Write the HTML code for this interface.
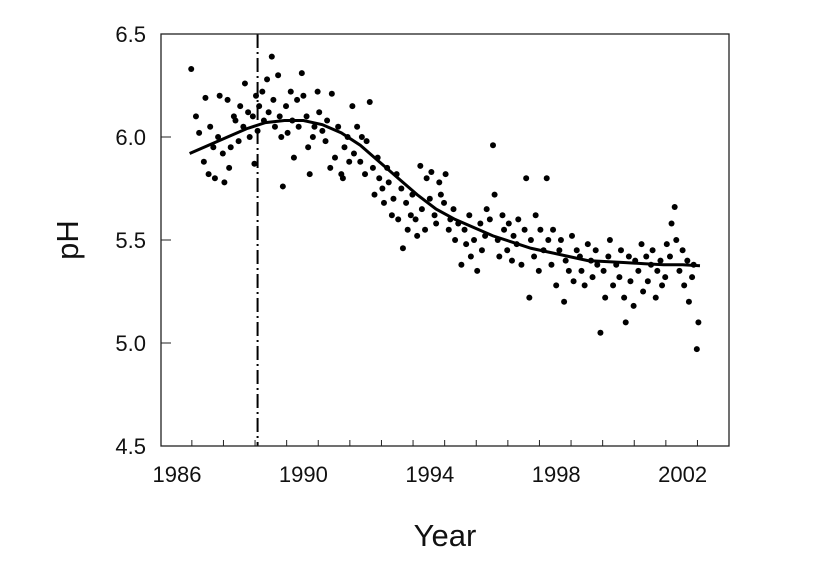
<!DOCTYPE html>
<html><head><meta charset="utf-8"><style>
html,body{margin:0;padding:0;background:#fff;}
svg{display:block;font-family:"Liberation Sans",Arial,sans-serif;}
</style></head><body>
<svg id="chart" width="832" height="564">
<rect x="0" y="0" width="832" height="564" fill="#fff"/>
<g id="dots"></g>
<g id="axes"></g>
<text x="445" y="546" font-size="31" text-anchor="middle" fill="#111">Year</text>
<text transform="translate(78,240) rotate(-90)" font-size="31" text-anchor="middle" fill="#111">pH</text>
</svg>
<script>
const years = [1986.45,1986.6,1986.7,1986.85,1986.9,1987.0,1987.05,1987.15,1987.2,1987.3,1987.35,1987.45,1987.5,1987.6,1987.65,1987.7,1987.8,1987.85,1987.95,1988.0,1988.1,1988.15,1988.25,1988.3,1988.4,1988.45,1988.5,1988.55,1988.6,1988.7,1988.75,1988.85,1988.9,1989.0,1989.05,1989.1,1989.2,1989.25,1989.3,1989.35,1989.45,1989.5,1989.6,1989.65,1989.7,1989.8,1989.85,1989.95,1990.0,1990.1,1990.15,1990.2,1990.3,1990.35,1990.45,1990.5,1990.6,1990.7,1990.75,1990.85,1990.9,1991.0,1991.1,1991.2,1991.25,1991.3,1991.4,1991.45,1991.55,1991.6,1991.7,1991.8,1991.85,1991.95,1992.0,1992.1,1992.2,1992.25,1992.35,1992.4,1992.5,1992.55,1992.65,1992.7,1992.8,1992.85,1992.95,1993.0,1993.1,1993.15,1993.25,1993.3,1993.4,1993.45,1993.55,1993.6,1993.7,1993.75,1993.85,1993.9,1994.0,1994.05,1994.15,1994.2,1994.3,1994.35,1994.45,1994.5,1994.6,1994.65,1994.75,1994.8,1994.9,1995.0,1995.1,1995.15,1995.25,1995.3,1995.4,1995.5,1995.6,1995.65,1995.75,1995.8,1995.9,1996.0,1996.05,1996.15,1996.2,1996.3,1996.35,1996.45,1996.5,1996.6,1996.65,1996.75,1996.8,1996.9,1997.0,1997.05,1997.15,1997.2,1997.3,1997.35,1997.45,1997.5,1997.6,1997.7,1997.75,1997.85,1997.9,1998.0,1998.1,1998.15,1998.25,1998.3,1998.4,1998.5,1998.55,1998.65,1998.75,1998.8,1998.9,1999.0,1999.1,1999.15,1999.25,1999.3,1999.4,1999.5,1999.55,1999.65,1999.7,1999.8,1999.9,2000.0,2000.05,2000.15,2000.2,2000.3,2000.35,2000.45,2000.5,2000.6,2000.7,2000.75,2000.85,2000.9,2001.0,2001.05,2001.15,2001.2,2001.3,2001.35,2001.45,2001.5,2001.6,2001.65,2001.75,2001.8,2001.9,2002.0,2002.05,2002.15,2002.2,2002.3,2002.35,2002.45,2002.5];
const phValues = [6.33,6.10,6.02,5.88,6.19,5.82,6.05,5.95,5.80,6.0,6.2,5.92,5.78,6.18,5.85,5.95,6.1,6.08,5.98,6.15,6.05,6.26,6.12,6.0,6.1,5.87,6.2,6.03,6.15,6.22,6.08,6.28,6.12,6.39,6.18,6.05,6.3,6.1,6.0,5.76,6.15,6.02,6.22,6.08,5.9,6.18,6.05,6.31,6.2,6.1,5.95,5.82,6.0,6.05,6.22,6.12,6.03,5.98,6.08,5.85,6.21,5.9,6.05,5.82,5.8,5.95,6.0,5.88,6.15,5.92,6.05,5.88,6.0,5.82,5.98,6.17,5.85,5.72,5.9,5.8,5.75,5.68,5.85,5.78,5.62,5.7,5.82,5.6,5.75,5.46,5.68,5.55,5.62,5.72,5.6,5.52,5.86,5.65,5.55,5.8,5.7,5.83,5.62,5.58,5.78,5.72,5.68,5.82,5.55,5.6,5.65,5.5,5.58,5.38,5.55,5.48,5.62,5.42,5.5,5.35,5.58,5.45,5.52,5.65,5.6,5.96,5.72,5.5,5.42,5.62,5.55,5.45,5.58,5.4,5.52,5.48,5.6,5.38,5.55,5.8,5.22,5.5,5.42,5.62,5.35,5.55,5.45,5.8,5.5,5.38,5.55,5.28,5.45,5.5,5.2,5.4,5.35,5.52,5.3,5.45,5.42,5.35,5.28,5.48,5.4,5.32,5.45,5.38,5.05,5.35,5.22,5.42,5.5,5.28,5.38,5.32,5.45,5.22,5.1,5.42,5.3,5.18,5.4,5.35,5.48,5.25,5.42,5.3,5.38,5.45,5.22,5.35,5.4,5.28,5.32,5.48,5.42,5.58,5.66,5.5,5.35,5.45,5.28,5.4,5.2,5.32,5.38,4.97,5.1,5.42,5.3,5.52,5.54,5.34];
const fitYears = [1986.4,1987,1987.6,1988.2,1988.8,1989.4,1990,1990.6,1991.2,1991.8,1992.4,1993,1993.6,1994.2,1994.8,1995.4,1996,1996.6,1997.2,1997.8,1998.4,1999,1999.6,2000.2,2000.8,2001.4,2002,2002.55];
const fitValues = [5.92,5.96,6.0,6.04,6.07,6.08,6.08,6.06,6.02,5.96,5.88,5.80,5.72,5.65,5.60,5.56,5.52,5.49,5.46,5.44,5.42,5.40,5.395,5.39,5.385,5.38,5.38,5.375];
const xTickLabels = [1986,1990,1994,1998,2002];
const yTickLabels = [4.5,5.0,5.5,6.0,6.5];
const refYear = 1988.55;

const x = yr => 177 + (yr - 1986) * 31.6;
const y = v => 34 + (6.5 - v) * 206;
const NS = 'http://www.w3.org/2000/svg';
function mk(tag, attrs, parent){const e=document.createElementNS(NS,tag);for(const k in attrs)e.setAttribute(k,attrs[k]);parent.appendChild(e);return e;}
const dots = document.getElementById('dots');
const axes = document.getElementById('axes');
years.forEach((yr,i)=>{
  const c = mk('circle',{cx:x(yr),cy:y(phValues[i]),r:3,fill:'#000'},dots);
  
  
});
const fit = mk('path',{d:fitYears.map((yr,i)=>(i?'L':'M')+x(yr)+','+y(fitValues[i])).join(' '),fill:'none',stroke:'#000','stroke-width':3},dots);


const ref = mk('line',{x1:x(refYear),x2:x(refYear),y1:34,y2:446,stroke:'#000','stroke-width':2,'stroke-dasharray':'14,4,2,4'},dots);


const frame = mk('rect',{x:161,y:34,width:568,height:412,fill:'none',stroke:'#222','stroke-width':1.3},axes);


for(let k=0;k<17;k++){
  const tx = x(1986.47 + k);
  const t = mk('line',{x1:tx,x2:tx,y1:446,y2:440,stroke:'#222','stroke-width':1},axes);
  
  
}
xTickLabels.forEach(v=>{
  const t = mk('text',{x:x(v),y:482,'font-size':22,'text-anchor':'middle',fill:'#111'},axes);
  t.textContent = v;
  
  
});
yTickLabels.forEach(v=>{
  const tk = mk('line',{x1:161,x2:171,y1:y(v),y2:y(v),stroke:'#222','stroke-width':1},axes);
  
  
  const t = mk('text',{x:146,y:y(v)+8,'font-size':22,'text-anchor':'end',fill:'#111'},axes);
  t.textContent = v.toFixed(1);
  
  
});
</script>
</body></html>
